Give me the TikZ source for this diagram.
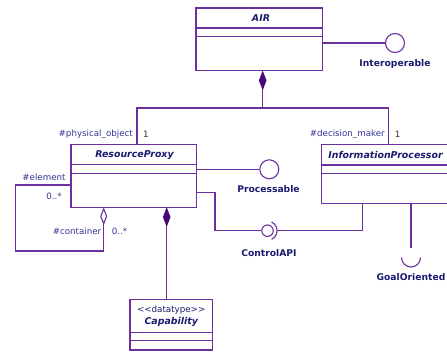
\documentclass[tikz,border=0pt]{standalone}
\usepackage{fontspec}
\setmainfont{DejaVu Sans}
\usetikzlibrary{arrows.meta}
\definecolor{umlline}{RGB}{108,48,158}
\definecolor{umltext}{RGB}{26,26,110}
\definecolor{roletext}{RGB}{52,52,150}
\definecolor{diafill}{RGB}{70,10,120}
\tikzset{
  umlbox/.style={draw=umlline, line width=1.1pt, rectangle, inner sep=0pt, outer sep=0pt, anchor=north west},
  conn/.style={draw=umlline, line width=1.1pt},
  compart/.style={draw=umlline, line width=1.1pt},
  clsname/.style={font=\fontsize{9.4}{10}\selectfont\bfseries\itshape, text=umltext, inner sep=0pt},
  stereo/.style={font=\fontsize{8.7}{10}\selectfont, text=umltext, inner sep=0pt},
  iface/.style={draw=umlline, line width=1.1pt, circle, fill=white, inner sep=0pt},
  ifacelabel/.style={font=\fontsize{9.2}{10}\selectfont\bfseries, text=umltext, inner sep=0pt},
  role/.style={font=\fontsize{8.7}{10}\selectfont, text=roletext, inner sep=0pt},
  mult/.style={font=\fontsize{8.7}{10}\selectfont, text=black!80, inner sep=0pt},
  solidDia/.tip={Diamond[length=19.5pt, width=7.6pt, fill=diafill, color=diafill]},
  openDia/.tip={Diamond[length=18pt, width=7pt, fill=white, color=umlline]},
}
\begin{document}
\begin{tikzpicture}[x=1pt, y=-1pt]
  \useasboundingbox (0,0) rectangle (447,352);
  \clip (0,0) rectangle (447,352);

  % classes
  \node[umlbox, minimum width=126.7pt, minimum height=62.7pt] (air) at (196,8) {};
  \node[clsname] (airname) at (261,18.5) {AIR};
  \draw[compart] (196,28) -- (322.7,28);
  \draw[compart] (196,36.7) -- (322.7,36.7);

  \node[umlbox, minimum width=125.7pt, minimum height=63pt] (rp) at (71,144.3) {};
  \node[clsname] (rpname) at (134.5,155) {ResourceProxy};
  \draw[compart] (71,164.3) -- (196.7,164.3);
  \draw[compart] (71,173.3) -- (196.7,173.3);

  \node[umlbox, minimum width=130pt, minimum height=59pt] (ip) at (321.7,144.3) {};
  \node[clsname] (ipname) at (385.5,155) {InformationProcessor};
  \draw[compart] (321.7,165) -- (452,165);
  \draw[compart] (321.7,173.3) -- (452,173.3);

  \node[umlbox, minimum width=82.3pt, minimum height=50.7pt] (cap) at (130,299.3) {};
  \node[stereo] (capstereo) at (171.2,310) {<{}<datatype>{}>};
  \node[clsname] (capname) at (171.2,321.7) {Capability};
  \draw[compart] (130,332.3) -- (212.3,332.3);
  \draw[compart] (130,340.7) -- (212.3,340.7);

  % provided / required interfaces
  \node[iface, minimum size=19pt] (interop) at (395,43) {};
  \node[ifacelabel] (interoplbl) at (395,63.5) {Interoperable};
  \node[iface, minimum size=19pt] (proc) at (269.3,169.3) {};
  \node[ifacelabel] (proclbl) at (268.5,189.5) {Processable};
  \node[iface, minimum size=11.5pt] (ctrl) at (267.5,230.7) {};
  \node[ifacelabel] (ctrllbl) at (269,253) {ControlAPI};
  \coordinate (goal) at (411,257.5);
  \node[ifacelabel] (goallbl) at (411,277) {GoalOriented};

  % composition of AIR
  \coordinate (airbot) at (262.7,70.7);
  \coordinate (junc) at (262.7,108);
  \coordinate (rptop) at (137,144.3);
  \coordinate (iptop) at (388.3,144.3);
  \draw[conn, {solidDia}-] (airbot) -- (junc);
  \draw[conn] (rptop) |- (iptop |- junc) -- (iptop);
  \node[role, anchor=east] (physrole) at (133,134.5) {\#physical\_object};
  \node[mult] (physmult) at (146,134.5) {1};
  \node[role, anchor=east] (decrole) at (385,134.5) {\#decision\_maker};
  \node[mult] (decmult) at (397.7,134.5) {1};

  % interface connectors
  \draw[conn] (air.east |- interop) -- (interop.west);
  \draw[conn] (rp.east |- proc) -- (proc.west);
  \coordinate (rpctl) at (196.7,192.7);
  \draw[conn] (rpctl) -- (215,192.7) |- (ctrl.west);
  \draw[conn] (267.5,230.7) ++(65:9.6) arc (65:-65:9.6);
  \coordinate (sockright) at (277.1,230.7);
  \coordinate (ipctl) at (362.7,203.3);
  \draw[conn] (sockright) -| (ipctl);
  \coordinate (ipgoal) at (411,203.3);
  \draw[conn] (ipgoal) -- ([yshift=9.5pt]goal);
  \draw[conn] (goal) ++(-9.5,0) arc (180:0:9.5);

  % self aggregation of ResourceProxy
  \coordinate (rpagg) at (103.7,207.3);
  \coordinate (rpleft) at (71,185);
  \draw[conn, {openDia}-] (rpagg) -- (103.7,251) -| (15.7,185) -- (rpleft);
  \node[role] (elemrole) at (44,177.5) {\#element};
  \node[role] (elemmult) at (54,196) {0..*};
  \node[role, anchor=east] (controle) at (101.5,231) {\#container};
  \node[role] (contmult) at (119.5,231) {0..*};

  % composition of Capability
  \coordinate (rpcap) at (166.7,207.3);
  \draw[conn, {solidDia}-] (rpcap) -- (cap.north -| rpcap);
\end{tikzpicture}
\end{document}
